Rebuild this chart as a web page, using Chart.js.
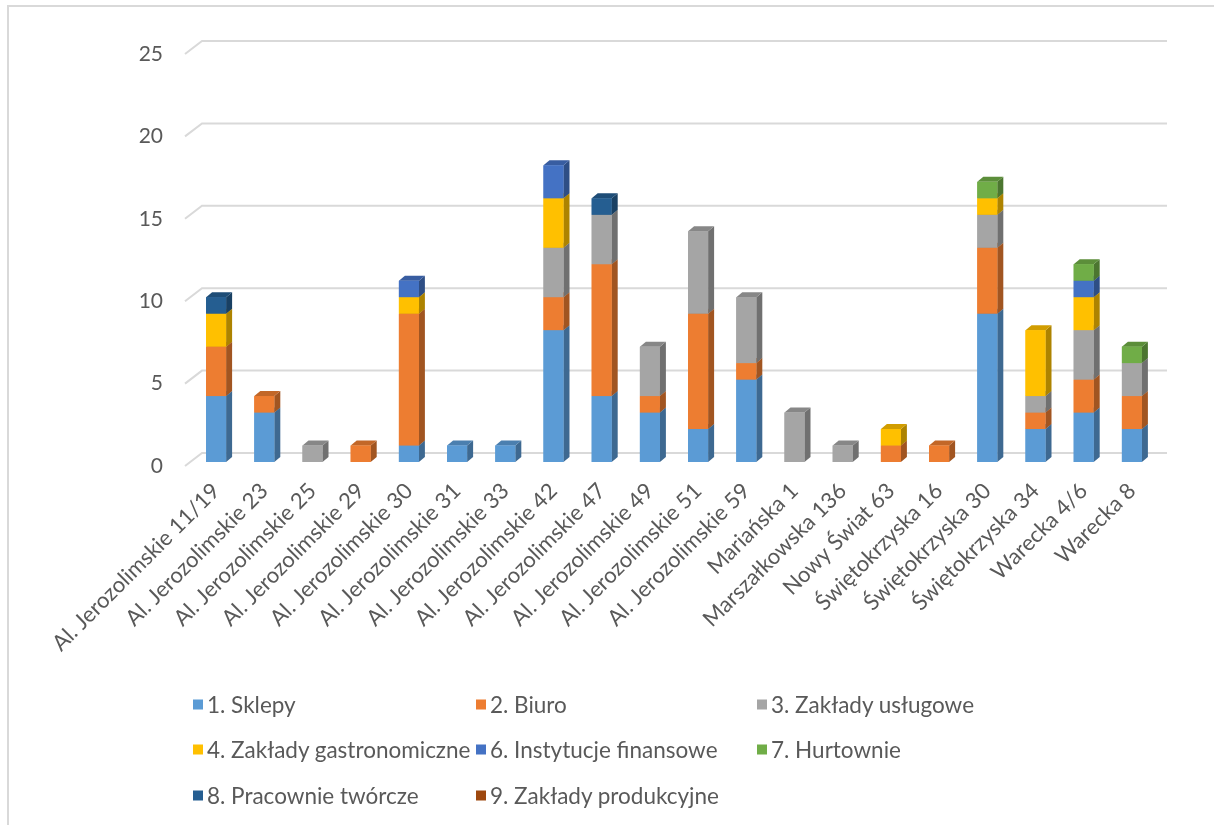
<!DOCTYPE html>
<html>
<head>
<meta charset="utf-8">
<script src="https://cdn.jsdelivr.net/npm/chart.js@4/dist/chart.umd.min.js"></script>
<style>
  html, body { margin: 0; padding: 0; background: #fff; }
  #wrap { position: relative; width: 1214px; height: 825px; overflow: hidden; }
  #frame { position: absolute; left: 7px; top: 5px; width: 1300px; height: 900px;
           border-left: 2px solid #d9d9d9; border-top: 2px solid #d9d9d9; pointer-events: none; }
  #chartBox { position: absolute; left: 0; top: 0; width: 1214px; height: 825px; }
  .leg { position: absolute; font-family: Lato, "Liberation Sans", sans-serif; font-size: 22.5px; color: #595959;
         white-space: nowrap; display: flex; align-items: center; transform: translateY(-50%); }
  .leg .sw { width: 10px; height: 10px; margin-right: 4px; display: inline-block; }
</style>
</head>
<body>
<div id="wrap">
  <div id="chartBox"><canvas id="c"></canvas></div>
  <div id="frame"></div>
  <div id="legend"></div>
</div>
<script>
const categories = [
  "Al. Jerozolimskie 11/19", "Al. Jerozolimskie 23", "Al. Jerozolimskie 25", "Al. Jerozolimskie 29",
  "Al. Jerozolimskie 30", "Al. Jerozolimskie 31", "Al. Jerozolimskie 33", "Al. Jerozolimskie 42",
  "Al. Jerozolimskie 47", "Al. Jerozolimskie 49", "Al. Jerozolimskie 51", "Al. Jerozolimskie 59",
  "Mariańska 1", "Marszałkowska 136", "Nowy Świat 63", "Świętokrzyska 16",
  "Świętokrzyska 30", "Świętokrzyska 34", "Warecka 4/6", "Warecka 8"
];
const seriesNames = [
  "1. Sklepy", "2. Biuro", "3. Zakłady usługowe", "4. Zakłady gastronomiczne",
  "6. Instytucje finansowe", "7. Hurtownie", "8. Pracownie twórcze", "9. Zakłady produkcyjne"
];
const sklepy       = [4, 3, 0, 0, 1, 1, 1, 8, 4, 3, 2, 5, 0, 0, 0, 0, 9, 2, 3, 2];
const biuro        = [3, 1, 0, 1, 8, 0, 0, 2, 8, 1, 7, 1, 0, 0, 1, 1, 4, 1, 2, 2];
const uslugowe     = [0, 0, 1, 0, 0, 0, 0, 3, 3, 3, 5, 4, 3, 1, 0, 0, 2, 1, 3, 2];
const gastronomia  = [2, 0, 0, 0, 1, 0, 0, 3, 0, 0, 0, 0, 0, 0, 1, 0, 1, 4, 2, 0];
const finansowe    = [0, 0, 0, 0, 1, 0, 0, 2, 0, 0, 0, 0, 0, 0, 0, 0, 0, 0, 1, 0];
const hurtownie    = [0, 0, 0, 0, 0, 0, 0, 0, 0, 0, 0, 0, 0, 0, 0, 0, 1, 0, 1, 1];
const pracownie    = [1, 0, 0, 0, 0, 0, 0, 0, 1, 0, 0, 0, 0, 0, 0, 0, 0, 0, 0, 0];
const produkcyjne  = [0, 0, 0, 0, 0, 0, 0, 0, 0, 0, 0, 0, 0, 0, 0, 0, 0, 0, 0, 0];
const seriesValues = [sklepy, biuro, uslugowe, gastronomia, finansowe, hurtownie, pracownie, produkcyjne];
const seriesColors = ["#5B9BD5", "#ED7D31", "#A5A5A5", "#FFC000", "#4472C4", "#70AD47", "#255E91", "#9E480E"];
const yTicks = [0, 5, 10, 15, 20, 25];

const TEXT = "#595959";
const FONT = "Lato, 'Liberation Sans', sans-serif";
const DX = 6, DY = 5;        // bar depth
const WALL_DY = 9, WALL_DX = 10; // back wall offset

function shade(hex, f) {
  const n = parseInt(hex.slice(1), 16);
  const r = Math.round(((n >> 16) & 255) * f), g = Math.round(((n >> 8) & 255) * f), b = Math.round((n & 255) * f);
  return `rgb(${r},${g},${b})`;
}

const threeD = {
  id: 'threeD',
  beforeDatasetsDraw(chart) {
    const ctx = chart.ctx, ys = chart.scales.y, a = chart.chartArea;
    ctx.save();
    ctx.strokeStyle = "#d9d9d9";
    ctx.lineWidth = 2;
    yTicks.forEach(v => {
      const yf = ys.getPixelForValue(v);
      ctx.beginPath();
      ctx.moveTo(a.left - 7, yf + 4);
      ctx.lineTo(a.left + WALL_DX, yf - WALL_DY);
      ctx.lineTo(a.right + 11, yf - WALL_DY);
      ctx.stroke();
    });
    ctx.restore();
  },
  afterDatasetsDraw(chart) {
    const ctx = chart.ctx;
    ctx.save();
    chart.data.datasets.forEach((ds, i) => {
      const meta = chart.getDatasetMeta(i);
      const col = seriesColors[i];
      meta.data.forEach((bar, j) => {
        if (!ds.data[j]) return;
        const p = bar.getProps(['x', 'y', 'base', 'width'], true);
        const l = p.x - p.width / 2, r = p.x + p.width / 2;
        const top = Math.min(p.y, p.base), bot = Math.max(p.y, p.base);
        ctx.fillStyle = shade(col, 0.68);
        ctx.beginPath();
        ctx.moveTo(r, bot); ctx.lineTo(r, top); ctx.lineTo(r + DX, top - DY); ctx.lineTo(r + DX, bot - DY);
        ctx.closePath(); ctx.fill();
        ctx.fillStyle = shade(col, 0.82);
        ctx.beginPath();
        ctx.moveTo(l, top); ctx.lineTo(l + DX, top - DY); ctx.lineTo(r + DX, top - DY); ctx.lineTo(r, top);
        ctx.closePath(); ctx.fill();
        ctx.fillStyle = col;
        ctx.fillRect(l, top, r - l, bot - top);
      });
    });
    ctx.restore();
  }
};

const datasets = seriesNames.map((name, i) => ({
  label: name,
  data: seriesValues[i],
  backgroundColor: seriesColors[i],
  borderWidth: 0,
  categoryPercentage: 1.0,
  barPercentage: 0.415
}));

new Chart(document.getElementById('c'), {
  type: 'bar',
  data: { labels: categories, datasets },
  options: {
    responsive: true,
    maintainAspectRatio: false,
    animation: false,
    devicePixelRatio: 1,
    layout: { padding: { top: 50, right: 58, bottom: 0, left: 0 } },
    plugins: { legend: { display: false }, tooltip: { enabled: false } },
    scales: {
      x: {
        stacked: true,
        grid: { display: false, drawTicks: false },
        border: { display: false },
        ticks: {
          color: TEXT, font: { family: FONT, size: 22 },
          maxRotation: 45, minRotation: 45, autoSkip: false,
          padding: 16, labelOffset: 0
        },
        afterFit(s) { s.height = 363; }
      },
      y: {
        stacked: true,
        min: 0, max: 25,
        grid: { display: false, drawTicks: false },
        border: { display: false },
        ticks: {
          stepSize: 5, color: TEXT, font: { family: FONT, size: 21 },
          padding: 29, labelOffset: 4
        },
        afterFit(s) { s.width = 192; }
      }
    }
  },
  plugins: [threeD]
});

// HTML legend
const legX = [193, 476, 757];
const legY = [704, 749, 795];
const legend = document.getElementById('legend');
seriesNames.forEach((name, i) => {
  const d = document.createElement('div');
  d.className = 'leg';
  d.style.left = legX[i % 3] + 'px';
  d.style.top = legY[Math.floor(i / 3)] + 'px';
  const sw = document.createElement('span');
  sw.className = 'sw';
  sw.style.background = seriesColors[i];
  d.appendChild(sw);
  d.appendChild(document.createTextNode(name));
  legend.appendChild(d);
});
</script>
</body>
</html>
